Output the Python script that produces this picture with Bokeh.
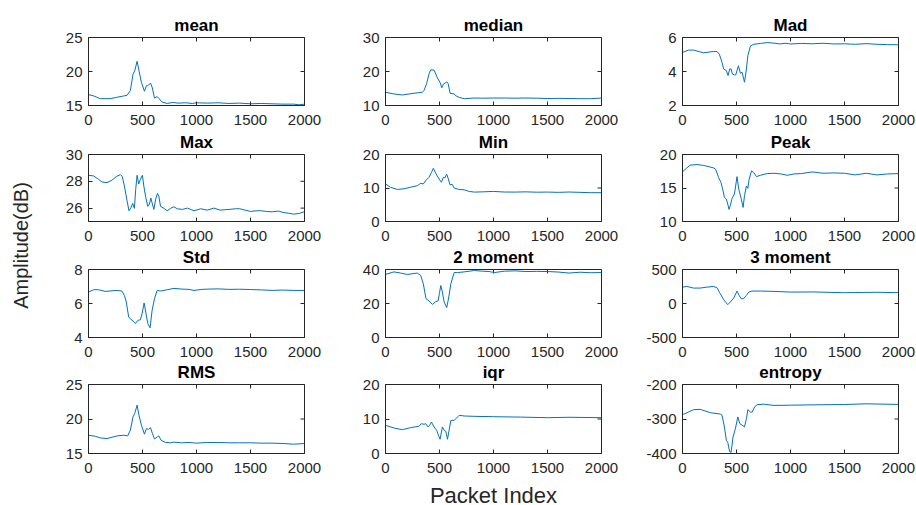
import math
from bokeh.plotting import figure
from bokeh.layouts import row
from bokeh.models import Range1d, FixedTicker, Label, CustomJSTickFormatter, GridBox
from bokeh.embed import file_html
from bokeh.resources import INLINE

FONT = "Liberation Sans"
AXC = "#262626"
LINE = "#0072BD"

# ---------------- data ----------------
X_TICKS = [0, 500, 1000, 1500, 2000]

MEAN = [(0, 16.6), (50, 16.4), (108, 16.0), (200, 16.0), (260, 16.2), (325, 16.4), (357, 16.5),
        (388, 17.2), (412, 19.6), (428, 20.1), (450, 21.5), (468, 20.1), (490, 18.4), (518, 17.1),
        (536, 17.9), (549, 17.9), (574, 18.3), (589, 17.7), (611, 16.1), (636, 16.3), (654, 16.0),
        (682, 15.5), (729, 15.3), (780, 15.45), (830, 15.35), (900, 15.4), (960, 15.3), (1000, 15.4),
        (1100, 15.35), (1200, 15.4), (1300, 15.3), (1400, 15.35), (1500, 15.25), (1600, 15.3),
        (1700, 15.25), (1800, 15.2), (1900, 15.2), (1950, 15.1), (2000, 15.2)]

MEDIAN = [(0, 13.9), (78, 13.4), (155, 13.1), (264, 13.6), (341, 13.9), (357, 14.4), (381, 16.5),
          (403, 19.3), (419, 20.5), (450, 20.4), (481, 18.1), (505, 16.8), (521, 15.2), (536, 16.3),
          (567, 16.9), (580, 16.5), (598, 13.6), (636, 13.4), (654, 12.8), (682, 12.4), (729, 12.0),
          (822, 12.2), (900, 12.15), (1000, 12.2), (1100, 12.2), (1200, 12.15), (1300, 12.2),
          (1400, 12.15), (1500, 12.05), (1600, 12.1), (1700, 12.05), (1800, 12.0), (1900, 12.0),
          (2000, 12.2)]

MAD = [(0, 5.12), (56, 5.26), (102, 5.26), (195, 5.1), (288, 5.18), (319, 5.18), (341, 5.02),
       (366, 4.54), (381, 4.15), (406, 4.05), (422, 3.76), (437, 4.15), (450, 4.15), (462, 3.85),
       (481, 3.8), (493, 3.8), (518, 4.34), (536, 3.9), (552, 3.95), (574, 3.37), (592, 4.15),
       (605, 4.93), (630, 5.51), (660, 5.6), (722, 5.65), (784, 5.7), (846, 5.67), (900, 5.62),
       (950, 5.66), (1000, 5.62), (1100, 5.65), (1200, 5.63), (1300, 5.66), (1400, 5.62),
       (1500, 5.63), (1600, 5.6), (1700, 5.64), (1800, 5.6), (1900, 5.58), (2000, 5.57)]

MAX = [(0, 28.45), (47, 28.4), (93, 28.15), (124, 27.95), (171, 27.9), (217, 28.08), (257, 28.35),
       (295, 28.5), (313, 28.35), (332, 27.66), (357, 26.55), (375, 25.8), (394, 26.05), (409, 26.35),
       (425, 25.98), (437, 27.4), (450, 28.45), (465, 27.8), (481, 28.15), (499, 28.45), (512, 27.66),
       (530, 26.8), (549, 26.13), (564, 26.3), (577, 26.75), (592, 26.3), (605, 25.9), (623, 26.7),
       (639, 27.1), (651, 26.9), (667, 26.13), (698, 25.98), (729, 25.8), (760, 25.98), (791, 26.1),
       (822, 25.95), (870, 25.9), (915, 26.0), (977, 25.8), (1039, 25.95), (1100, 25.85),
       (1160, 26.0), (1220, 25.85), (1300, 25.9), (1360, 25.95), (1400, 25.95), (1450, 25.85),
       (1500, 25.75), (1560, 25.8), (1600, 25.8), (1650, 25.75), (1700, 25.72), (1760, 25.78),
       (1800, 25.68), (1850, 25.62), (1900, 25.55), (1950, 25.6), (2000, 25.74)]

MIN = [(0, 11.2), (47, 10.2), (109, 9.56), (171, 9.76), (233, 10.24), (295, 10.7), (326, 11.4),
       (350, 11.2), (372, 12.2), (403, 13.2), (425, 14.6), (443, 15.9), (465, 14.4), (496, 12.7),
       (518, 11.7), (536, 13.2), (549, 13.0), (567, 14.1), (580, 12.9), (598, 10.9), (617, 11.1),
       (636, 10.0), (682, 9.56), (729, 9.46), (775, 8.98), (822, 8.78), (900, 8.85), (1000, 8.98),
       (1100, 8.8), (1200, 8.78), (1300, 8.85), (1400, 8.75), (1500, 8.78), (1600, 8.7),
       (1700, 8.8), (1800, 8.7), (1900, 8.6), (2000, 8.6)]

PEAK = [(0, 17.4), (40, 18.0), (71, 18.4), (133, 18.5), (195, 18.37), (288, 18.0), (307, 17.8),
        (335, 16.55), (357, 15.8), (375, 14.6), (388, 13.6), (406, 13.35), (419, 12.6), (431, 11.8),
        (443, 12.4), (459, 13.45), (481, 14.1), (505, 16.7), (521, 14.8), (543, 13.45), (561, 12.1),
        (574, 13.85), (592, 15.3), (605, 14.95), (617, 16.3), (639, 17.55), (660, 17.3), (685, 16.7),
        (722, 16.9), (784, 17.15), (846, 17.2), (910, 17.1), (970, 16.9), (1032, 17.1),
        (1100, 17.15), (1200, 17.4), (1300, 17.2), (1400, 17.25), (1500, 17.2), (1600, 16.95),
        (1700, 17.2), (1800, 16.95), (1900, 17.1), (2000, 17.15)]

STD = [(0, 6.67), (47, 6.81), (93, 6.81), (155, 6.71), (264, 6.77), (310, 6.73), (332, 6.48),
       (350, 6.09), (372, 5.2), (388, 5.1), (412, 4.97), (434, 4.82), (456, 5.0), (481, 5.05),
       (496, 5.4), (515, 6.03), (530, 5.5), (549, 4.82), (570, 4.57), (589, 5.6), (611, 6.28),
       (636, 6.77), (667, 6.73), (729, 6.81), (791, 6.89), (860, 6.85), (930, 6.83), (977, 6.77),
       (1050, 6.83), (1120, 6.85), (1200, 6.86), (1300, 6.83), (1400, 6.84), (1500, 6.82),
       (1600, 6.8), (1700, 6.77), (1800, 6.79), (1900, 6.77), (2000, 6.77)]

MOMENT2 = [(0, 37.1), (78, 38.6), (140, 37.9), (202, 37.1), (295, 37.9), (326, 36.5), (350, 31.6),
           (375, 22.8), (403, 21.5), (434, 19.5), (465, 21.1), (487, 21.5), (499, 25.8), (512, 30.6),
           (527, 26.7), (543, 20.9), (567, 17.6), (586, 23.8), (605, 31.6), (636, 38.2), (667, 38.2),
           (729, 38.6), (822, 39.4), (900, 39.0), (960, 38.8), (1008, 38.2), (1100, 39.0),
           (1200, 39.2), (1300, 38.8), (1400, 38.9), (1500, 38.8), (1600, 38.5), (1700, 37.9),
           (1800, 38.4), (1900, 38.1), (2000, 38.2)]

MOMENT3 = [(0, 241), (40, 251), (102, 227), (164, 227), (226, 241), (288, 251), (319, 232),
           (350, 144), (381, 56), (419, -17), (443, 22), (474, 80), (505, 183), (524, 120),
           (543, 71), (567, 71), (592, 120), (614, 168), (645, 183), (722, 183), (846, 178),
           (1000, 168), (1200, 170), (1500, 159), (1800, 165), (2000, 159)]

RMS = [(0, 17.65), (62, 17.5), (109, 17.26), (171, 17.16), (264, 17.55), (326, 17.65), (363, 17.55),
       (388, 18.4), (412, 20.3), (428, 20.8), (450, 22.0), (468, 20.5), (490, 19.1), (518, 17.8),
       (536, 18.6), (555, 18.5), (574, 18.75), (592, 17.9), (611, 17.1), (636, 17.4), (651, 17.55),
       (673, 16.9), (713, 16.6), (760, 16.55), (791, 16.65), (860, 16.55), (930, 16.6),
       (1000, 16.5), (1100, 16.6), (1200, 16.6), (1300, 16.55), (1400, 16.55), (1500, 16.55),
       (1600, 16.5), (1700, 16.5), (1800, 16.45), (1900, 16.35), (2000, 16.45)]

IQR = [(0, 8.17), (78, 7.4), (155, 6.9), (233, 7.5), (310, 7.9), (332, 8.65), (357, 8.46),
       (372, 8.65), (394, 7.7), (412, 8.3), (425, 9.13), (450, 7.7), (474, 6.73), (490, 5.3),
       (505, 4.13), (527, 7.7), (543, 6.73), (558, 6.44), (574, 4.13), (589, 6.73), (605, 9.6),
       (636, 9.6), (682, 11.06), (729, 10.87), (822, 10.77), (1000, 10.67), (1250, 10.55),
       (1500, 10.38), (1700, 10.5), (2000, 10.38)]

ENTROPY = [(0, -287.5), (56, -279.8), (102, -273), (164, -272), (257, -281.7), (350, -285.6),
           (366, -289), (388, -323), (406, -361.5), (419, -368), (437, -395), (450, -397),
           (468, -352), (490, -328), (512, -294), (530, -313), (552, -318), (574, -323),
           (592, -299), (605, -273), (630, -280), (645, -280), (667, -265), (691, -258.6),
           (753, -257), (846, -260.6), (1000, -260), (1200, -259), (1500, -258), (1700, -256),
           (2000, -257.7)]

TITLES = ["mean", "median", "Mad", "Max", "Min", "Peak", "Std", "2 moment", "3 moment",
          "RMS", "iqr", "entropy"]
SERIES = [MEAN, MEDIAN, MAD, MAX, MIN, PEAK, STD, MOMENT2, MOMENT3, RMS, IQR, ENTROPY]
Y_LIMITS = [(15, 25), (10, 30), (2, 6), (25, 30), (0, 20), (10, 20), (4, 8), (0, 40),
            (-500, 500), (15, 25), (0, 20), (-400, -200)]
Y_TICKS = [[15, 20, 25], [10, 20, 30], [2, 4, 6], [26, 28, 30], [0, 10, 20], [10, 15, 20],
           [4, 6, 8], [0, 20, 40], [-500, 0, 500], [15, 20, 25], [0, 10, 20], [-400, -300, -200]]
X_LABEL = "Packet Index"
Y_LABEL = "Amplitude(dB)"

# ---------------- layout constants (pixels) ----------------
PAGE_H = 505
FW = 216
FRAME_TOP = [37, 154, 269, 384]  # frame tops on the page
FH = [68, 67, 68, 69]            # frame heights
PAD_T = 10                       # panel canvas above the frame
PAD_B = 30                       # panel canvas below the frame (x tick labels)
STRIP_H = 30                     # title strip above each frame (may overlap neighbours)
XSTRIP_TOP = 476
SIDE_W = 38
LEFT_B = [50, 61, 61]
RIGHT_B = [20, 20, 17]
TITLE_PX = 17
XLABEL_PX = 22
BASE_SHIFT = 0.23                # baseline correction of the text renderer (em)
TITLE_GAP = 8.3                  # title baseline above the frame top
XLABEL_BASE = 5                  # x label baseline above the page bottom


def col_width(c):
    return LEFT_B[c] + FW + RIGHT_B[c]


def blank(c, h):
    """A transparent frame-only figure that holds text, aligned with the panels' frames."""
    f = figure(width=col_width(c), height=h, title=None,
               min_border_left=LEFT_B[c], min_border_right=RIGHT_B[c],
               min_border_top=0, min_border_bottom=0,
               x_range=Range1d(0, 2000), y_range=Range1d(0, h),
               x_axis_location=None, y_axis_location=None,
               toolbar_location=None, output_backend="svg",
               outline_line_color=None, background_fill_color=None,
               border_fill_color=None)
    f.grid.visible = False
    return f


def style_axis(ax, ticks, standoff):
    ax.ticker = FixedTicker(ticks=ticks)
    ax.axis_line_color = AXC
    ax.axis_line_width = 1
    ax.major_tick_line_color = AXC
    ax.major_tick_in = 4
    ax.major_tick_out = 0
    ax.minor_tick_line_color = None
    ax.major_label_text_font = FONT
    ax.major_label_text_font_size = "15px"
    ax.major_label_text_color = AXC
    ax.major_label_standoff = standoff
    ax.formatter = CustomJSTickFormatter(code="return tick.toString();")


def make_panel(i):
    r, c = divmod(i, 3)
    lo, hi = Y_LIMITS[i]
    p = figure(width=col_width(c), height=PAD_T + FH[r] + PAD_B, title=None,
               x_range=Range1d(0, 2000), y_range=Range1d(lo, hi),
               toolbar_location=None, output_backend="svg",
               min_border_left=LEFT_B[c], min_border_right=RIGHT_B[c],
               min_border_top=PAD_T, min_border_bottom=PAD_B,
               background_fill_color="white", border_fill_color=None)
    p.grid.visible = False
    p.outline_line_color = AXC
    style_axis(p.xaxis[0], X_TICKS, 9)
    style_axis(p.yaxis[0], Y_TICKS[i], 6)

    # mirrored inward ticks on the top and right edges (clipped to the frame -> 4px inward)
    p.scatter(X_TICKS, [hi] * len(X_TICKS), marker="dash", angle=math.pi / 2, size=8,
              line_color=AXC, line_width=1)
    p.scatter([2000] * len(Y_TICKS[i]), Y_TICKS[i], marker="dash", size=8,
              line_color=AXC, line_width=1)

    xs = [pt[0] for pt in SERIES[i]]
    ys = [pt[1] for pt in SERIES[i]]
    p.line(xs, ys, line_color=LINE, line_width=1)
    return p


def make_title(i):
    r, c = divmod(i, 3)
    f = blank(c, STRIP_H)
    f.add_layout(Label(x=1000, y=TITLE_GAP + BASE_SHIFT * TITLE_PX,
                       text=TITLES[i], text_align="center", text_baseline="alphabetic",
                       text_font=FONT, text_font_size=f"{TITLE_PX}px",
                       text_font_style="bold", text_color="black"))
    return f


# vertical start of every band on the page -> grid track boundaries
starts = []
bands = []
for r in range(4):
    starts.append(FRAME_TOP[r] - STRIP_H)
    bands.append(row(*[make_title(r * 3 + c) for c in range(3)]))
    starts.append(FRAME_TOP[r] - PAD_T)
    bands.append(row(*[make_panel(r * 3 + c) for c in range(3)]))

xl_strips = []
for c in range(3):
    f = blank(c, PAGE_H - XSTRIP_TOP)
    if c == 1:
        f.add_layout(Label(x=1000, y=XLABEL_BASE + BASE_SHIFT * XLABEL_PX, text=X_LABEL,
                           text_align="center", text_baseline="alphabetic",
                           text_font=FONT, text_font_size=f"{XLABEL_PX}px", text_color=AXC))
    xl_strips.append(f)
starts.append(XSTRIP_TOP)
bands.append(row(*xl_strips))

bounds = [0] + starts + [PAGE_H]
tracks = [f"{b - a}px" for a, b in zip(bounds[:-1], bounds[1:])]

side = figure(width=SIDE_W, height=PAGE_H, min_border=0, title=None,
              x_range=Range1d(0, SIDE_W), y_range=Range1d(0, PAGE_H),
              x_axis_location=None, y_axis_location=None,
              toolbar_location=None, output_backend="svg",
              outline_line_color=None, background_fill_color=None,
              border_fill_color=None)
side.grid.visible = False
side.add_layout(Label(x=20, y=PAGE_H - 245, text=Y_LABEL, angle=math.pi / 2,
                      text_align="center", text_baseline="middle", text_font=FONT,
                      text_font_size="20px", text_color=AXC))

children = [(side, 0, 0, len(tracks), 1)]
for k, band in enumerate(bands):
    children.append((band, k + 1, 1))

total_w = sum(col_width(c) for c in range(3))
layout = GridBox(children=children, rows=tracks, cols=[f"{SIDE_W}px", f"{total_w}px"],
                 spacing=0)
open("out.html", "w").write(file_html(layout, INLINE))
